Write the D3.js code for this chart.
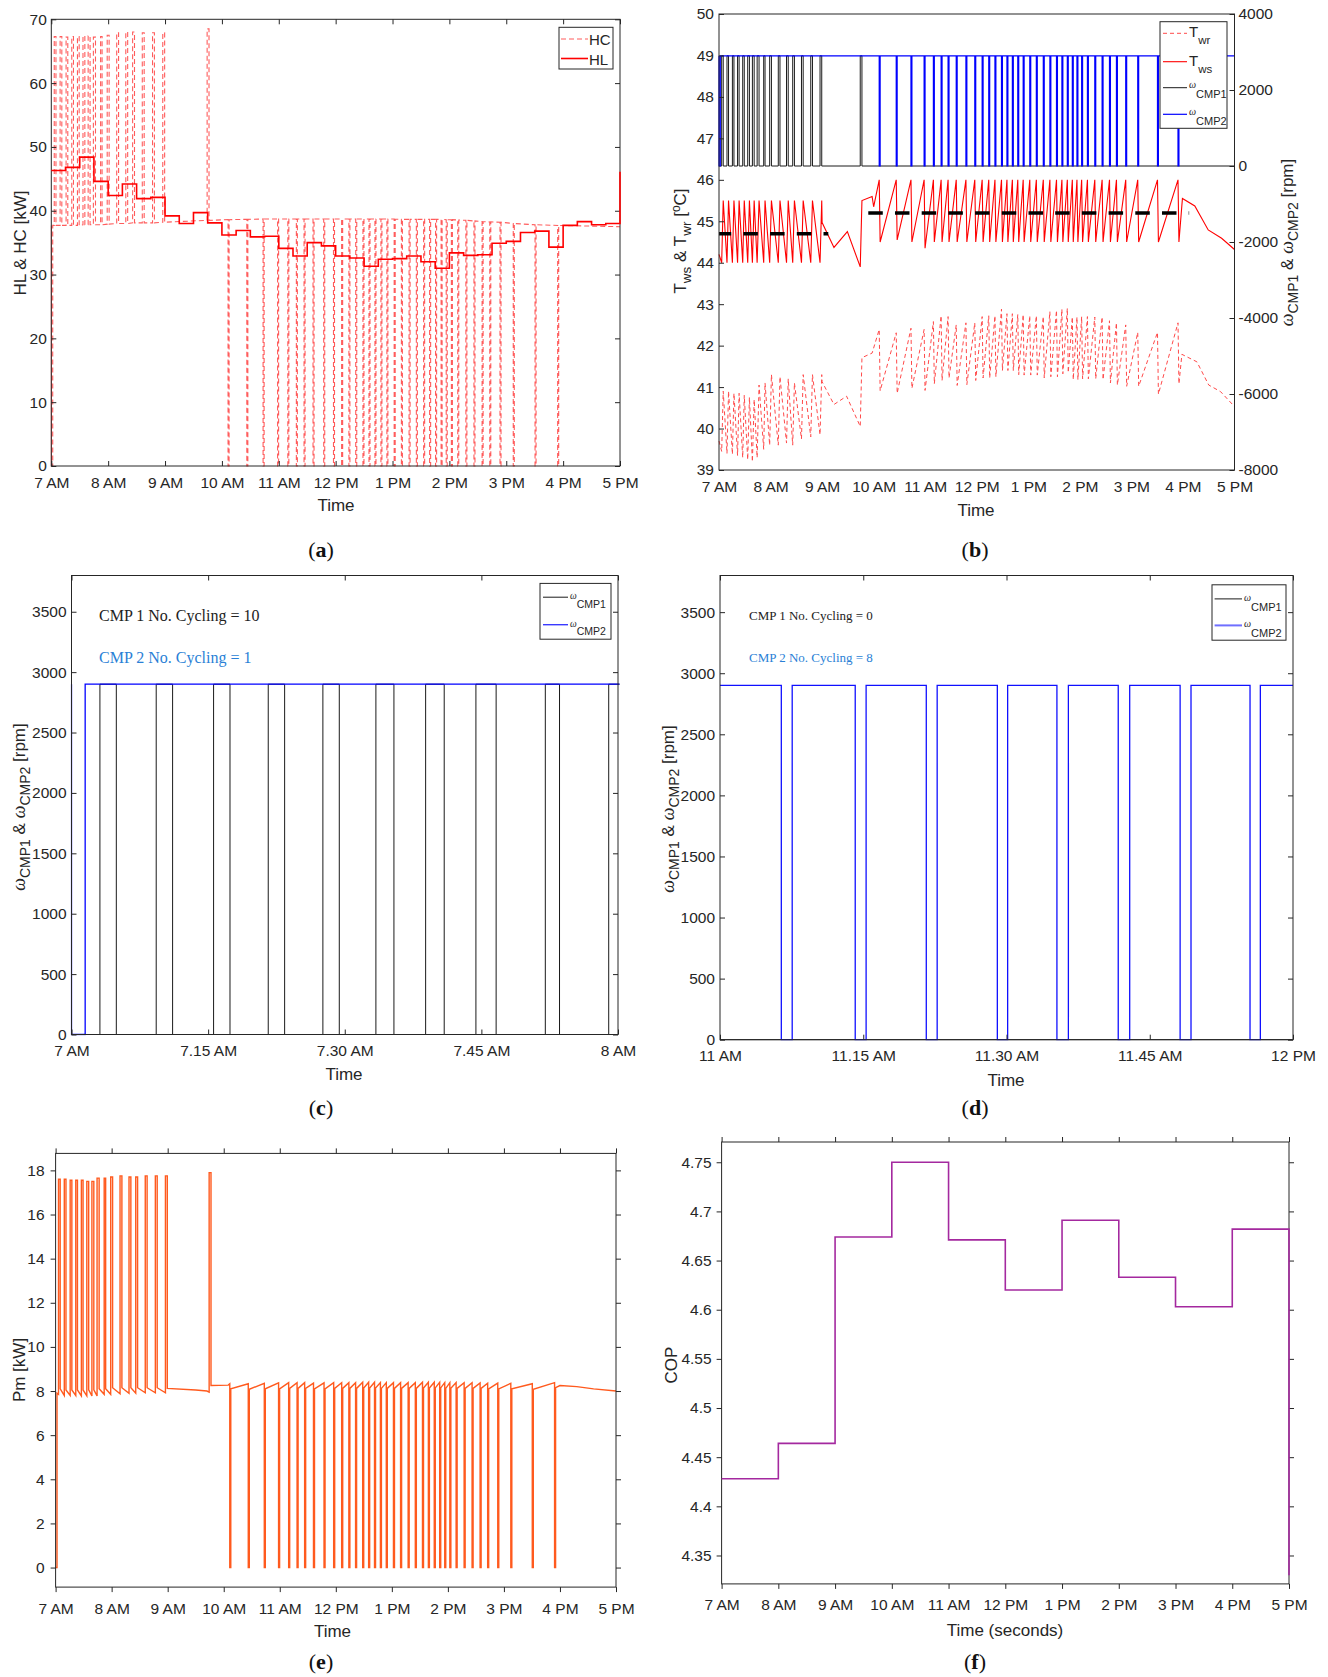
<!DOCTYPE html>
<html><head><meta charset="utf-8"><title>Heat pump simulation</title>
<script src="https://cdn.jsdelivr.net/npm/d3@7/dist/d3.min.js"></script>
<style>html,body{margin:0;padding:0;background:#fff}</style>
</head><body><script>
// ---------------- DATA (times in hours of day) ----------------
const hourTicks  = [7, 8, 9, 10, 11, 12, 13, 14, 15, 16, 17];
const hourLabels = ["7 AM","8 AM","9 AM","10 AM","11 AM","12 PM","1 PM","2 PM","3 PM","4 PM","5 PM"];
const cTicks  = [7, 7.25, 7.5, 7.75, 8];
const cLabels = ["7 AM","7.15 AM","7.30 AM","7.45 AM","8 AM"];
const dTicks  = [11, 11.25, 11.5, 11.75, 12];
const dLabels = ["11 AM","11.15 AM","11.30 AM","11.45 AM","12 PM"];
const aYTicks = [0, 10, 20, 30, 40, 50, 60, 70];
const bLeftTicks  = [39, 40, 41, 42, 43, 44, 45, 46, 47, 48, 49, 50];
const bRightTicks = [-8000, -6000, -4000, -2000, 0, 2000, 4000];
const rpmTicks = [0, 500, 1000, 1500, 2000, 2500, 3000, 3500];
const pmTicks  = [0, 2, 4, 6, 8, 10, 12, 14, 16, 18];
const copTicks = [4.35, 4.4, 4.45, 4.5, 4.55, 4.6, 4.65, 4.7, 4.75];

const cmpSpeed = 2900; // rpm of a running compressor

// CMP1 on-pulses (morning)
const cmp1OnStart = [7.052, 7.155, 7.260, 7.360, 7.460, 7.557, 7.648, 7.740, 7.867, 7.983, 8.150, 8.310, 8.430, 8.600, 8.780, 8.960, 9.740];
const cmp1OnEnd   = [7.082, 7.185, 7.290, 7.390, 7.490, 7.590, 7.682, 7.777, 7.893, 8.017, 8.183, 8.343, 8.463, 8.633, 8.813, 8.993, 9.773];
// CMP2 off-periods (first one = start-up)
const cmp2OffStart = [7.000, 10.108, 10.438, 10.724, 10.979, 11.159, 11.309, 11.444, 11.602, 11.790, 11.962, 12.105, 12.233, 12.353, 12.480, 12.586, 12.691, 12.796, 12.901, 13.029, 13.156, 13.291, 13.419, 13.547, 13.652, 13.757, 13.854, 13.944, 14.035, 14.147, 14.290, 14.432, 14.575, 14.710, 14.890, 15.123, 15.506, 15.904];
const cmp2OffEnd   = [7.025, 10.126, 10.456, 10.742, 10.997, 11.177, 11.327, 11.462, 11.620, 11.808, 11.980, 12.123, 12.251, 12.371, 12.498, 12.604, 12.709, 12.814, 12.919, 13.047, 13.174, 13.309, 13.437, 13.565, 13.670, 13.775, 13.872, 13.962, 14.053, 14.165, 14.308, 14.450, 14.593, 14.728, 14.908, 15.141, 15.524, 15.922];
// panel (d) detail: CMP2 off-periods between 11 AM and 12 PM
const cmp2OffStartD = [11.107, 11.236, 11.360, 11.484, 11.588, 11.695, 11.803, 11.925];
const cmp2OffEndD   = [11.126, 11.255, 11.379, 11.502, 11.608, 11.715, 11.822, 11.943];

// (a) heating load, 15-min steps
const hlValues = [46.3, 46.8, 48.4, 44.6, 42.4, 44.2, 41.9, 42.1, 39.2, 38.0, 39.7, 38.1, 36.2, 36.9, 35.9, 36.0, 34.1, 32.9, 35.0, 34.5, 32.9, 32.6, 31.3, 32.4, 32.5, 32.9, 32.0, 31.0, 33.4, 33.0, 33.1, 34.9, 35.2, 36.6, 36.8, 34.3, 37.7, 38.3, 37.8, 38.0];
const hlFinal = 46.1;
// (a) heating capacity
const hcPulsePeak = [67.3, 67.3, 67.2, 67.3, 67.3, 67.4, 67.4, 67.2, 67.3, 67.5, 67.9, 68.0, 68.0, 67.9, 67.9, 67.9, 68.5];
const hcPulseBase = [37.7, 37.7, 37.7, 37.7, 37.7, 37.8, 37.8, 37.8, 37.8, 37.9, 38.0, 38.0, 38.1, 38.1, 38.1, 38.2, 38.5];
const hcOffBase   = [37.7, 38.6, 38.65, 38.7, 38.7, 38.7, 38.7, 38.7, 38.7, 38.7, 38.7, 38.7, 38.7, 38.7, 38.7, 38.7, 38.7, 38.7, 38.7, 38.7, 38.65, 38.65, 38.65, 38.65, 38.65, 38.65, 38.65, 38.6, 38.6, 38.55, 38.5, 38.4, 38.3, 38.25, 38.2, 38.0, 37.8, 37.7];
const hcEnd = 37.5;

// (b) supply water temperature Tws
const twsPulseLow  = [44.0, 44.0, 44.0, 44.0, 44.0, 44.0, 44.0, 44.0, 44.0, 44.0, 44.0, 44.0, 44.0, 44.0, 44.0, 44.0, 43.9];
const twsPulseHigh = [45.5, 45.5, 45.5, 45.5, 45.5, 45.5, 45.5, 45.5, 45.5, 45.5, 45.5, 45.5, 45.5, 45.5, 45.5, 45.5, 45.5];
const twsOffPeak   = [46.0, 46.0, 46.0, 46.0, 46.0, 46.0, 46.0, 46.0, 46.0, 46.0, 46.0, 46.0, 46.0, 46.0, 46.0, 46.0, 46.0, 46.0, 46.0, 46.0, 46.0, 46.0, 46.0, 46.0, 46.0, 46.0, 46.0, 46.0, 46.0, 46.0, 46.0, 46.0, 46.0, 46.0, 46.0, 46.0, 46.0];
const twsOffTrough = [44.5, 44.55, 44.5, 44.35, 44.5, 44.5, 44.5, 44.5, 44.5, 44.5, 44.5, 44.5, 44.5, 44.5, 44.5, 44.5, 44.5, 44.5, 44.5, 44.5, 44.5, 44.5, 44.5, 44.5, 44.5, 44.5, 44.5, 44.5, 44.5, 44.5, 44.5, 44.5, 44.5, 44.5, 44.5, 44.5, 44.5];
const twsExtraT = [7.0, 9.0, 9.23, 9.49, 9.97, 10.0, 15.99, 16.23, 16.49, 16.75, 17.0];
const twsExtraV = [44.2, 44.97, 44.37, 44.75, 45.6, 45.35, 45.55, 45.37, 44.79, 44.59, 44.32];
// (b) return water temperature Twr
const twrPulseLow  = [39.45, 39.4, 39.38, 39.35, 39.3, 39.25, 39.2, 39.3, 39.5, 39.6, 39.6, 39.65, 39.6, 39.75, 39.8, 39.85, 40.05];
const twrPulseHigh = [40.9, 40.9, 40.85, 40.85, 40.8, 40.75, 40.7, 41.05, 41.1, 41.3, 41.25, 41.2, 41.1, 41.3, 41.3, 41.3, 41.71];
const twrOffPeak   = [42.39, 42.31, 42.42, 42.39, 42.58, 42.72, 42.70, 42.50, 42.55, 42.55, 42.70, 42.72, 42.72, 42.88, 42.77, 42.77, 42.75, 42.75, 42.72, 42.72, 42.70, 42.82, 42.85, 42.88, 42.90, 42.69, 42.69, 42.70, 42.70, 42.69, 42.69, 42.60, 42.55, 42.50, 42.32, 42.32, 42.55];
const twrOffTrough = [40.91, 40.85, 40.97, 40.92, 41.08, 41.16, 41.22, 41.04, 41.06, 41.16, 41.22, 41.22, 41.25, 41.40, 41.40, 41.40, 41.30, 41.29, 41.29, 41.29, 41.22, 41.25, 41.25, 41.32, 41.35, 41.18, 41.18, 41.20, 41.20, 41.20, 41.18, 41.10, 41.05, 41.02, 41.02, 40.83, 41.08];
const twrExtraT = [7.0, 9.0, 9.23, 9.475, 9.97, 15.98, 16.27, 16.5, 16.73, 17.0];
const twrExtraV = [39.7, 41.13, 40.58, 40.78, 41.82, 41.79, 41.61, 41.05, 40.89, 40.53];
// (b) set points
const setStart = [7.0, 9.896];
const setEnd   = [9.12, 16.12];
const setValue = [44.7, 45.2];

// (e) compressor power Pm
const pmPulsePre  = [7.85, 7.8, 7.8, 7.8, 7.78, 7.78, 7.78, 7.78, 7.85, 7.85, 7.88, 7.9, 7.9, 7.92, 7.92, 7.92, 7.95];
const pmPulsePeak = [17.6, 17.6, 17.55, 17.55, 17.55, 17.5, 17.5, 17.65, 17.65, 17.7, 17.75, 17.7, 17.7, 17.75, 17.75, 17.75, 17.9];
const pmPulsePost = [8.1, 8.05, 8.05, 8.05, 8.05, 8.05, 8.05, 8.1, 8.1, 8.15, 8.15, 8.15, 8.15, 8.15, 8.15, 8.12, 8.25];
const pmOffPre  = [0, 8.33, 8.33, 8.35, 8.37, 8.38, 8.38, 8.38, 8.36, 8.37, 8.38, 8.38, 8.38, 8.38, 8.40, 8.40, 8.40, 8.38, 8.38, 8.38, 8.38, 8.38, 8.38, 8.40, 8.40, 8.40, 8.40, 8.38, 8.38, 8.38, 8.38, 8.38, 8.37, 8.36, 8.36, 8.35, 8.33, 8.38];
const pmOffPost = [7.90, 8.10, 8.08, 8.10, 8.10, 8.12, 8.12, 8.12, 8.10, 8.10, 8.12, 8.12, 8.12, 8.12, 8.14, 8.14, 8.14, 8.12, 8.12, 8.12, 8.12, 8.12, 8.12, 8.14, 8.14, 8.14, 8.14, 8.12, 8.12, 8.12, 8.12, 8.12, 8.12, 8.10, 8.10, 8.10, 8.08, 8.15];
const pmExtraT = [9.5, 9.7, 10.08, 16.0, 16.3, 16.6, 17.0];
const pmExtraV = [8.05, 8.0, 8.27, 8.25, 8.2, 8.1, 8.0];

// (f) hourly COP
const copHours  = [7, 8, 9, 10, 11, 12, 13, 14, 15, 16];
const copValues = [4.428, 4.464, 4.674, 4.750, 4.671, 4.620, 4.691, 4.633, 4.603, 4.682];
const copFinal = 4.33;

// ---------------- DRAWING ----------------
const SANS = "'Liberation Sans', Arial, Helvetica, sans-serif";
const SERIF = "'Liberation Serif', 'Times New Roman', serif";
const AX = "#262626";
const TF = 15.5;

const svg = d3.select("body").append("svg").attr("width", 1328).attr("height", 1677);
svg.append("rect").attr("width", 1328).attr("height", 1677).attr("fill", "#fff");

function styleAxis(sel) {
  sel.select(".domain").remove();
  sel.selectAll("line").attr("stroke", AX).attr("stroke-width", 1);
  sel.selectAll("text").attr("fill", AX).attr("font-size", TF).attr("font-family", SANS);
}

function frame(o) {
  const x = d3.scaleLinear().domain(o.xd).range([o.L, o.R]);
  const y = d3.scaleLinear().domain(o.yd).range([o.B, o.T]);
  const g = svg.append("g");
  const cid = "clip-" + o.id;
  svg.append("clipPath").attr("id", cid).append("rect")
    .attr("x", o.L - 1).attr("y", o.T - 1).attr("width", o.R - o.L + 2.5).attr("height", o.B - o.T + 2);
  const plot = g.append("g").attr("clip-path", `url(#${cid})`);
  const ax = g.append("g");
  const ts = o.out ? 5 : -5;
  ax.append("g").attr("transform", `translate(0,${o.B})`)
    .call(d3.axisBottom(x).tickValues(o.xt).tickFormat((d, i) => o.xl[i])
      .tickSizeInner(o.noX ? 0 : ts).tickSizeOuter(0).tickPadding(10.5))
    .call(styleAxis);
  if (o.top) ax.append("g").attr("transform", `translate(0,${o.T})`)
    .call(d3.axisTop(x).tickValues(o.xt).tickFormat(() => "").tickSizeInner(ts).tickSizeOuter(0))
    .call(styleAxis);
  ax.append("g").attr("transform", `translate(${o.L},0)`)
    .call(d3.axisLeft(y).tickValues(o.yt).tickFormat(d => String(d))
      .tickSizeInner(ts).tickSizeOuter(0).tickPadding(o.ypad || 5))
    .call(styleAxis);
  if (o.right) ax.append("g").attr("transform", `translate(${o.R},0)`)
    .call(d3.axisRight(y).tickValues(o.yt).tickFormat(() => "").tickSizeInner(ts).tickSizeOuter(0))
    .call(styleAxis);
  ax.append("rect").attr("x", o.L).attr("y", o.T).attr("width", o.R - o.L).attr("height", o.B - o.T)
    .attr("fill", "none").attr("stroke", AX).attr("stroke-width", 1);
  return { x, y, g, plot, ax };
}

function series(points) { return points.slice().sort((a, b) => a[0] - b[0]); }
function drawLine(P, data, yScale, color, width, dash, curve, onTop) {
  const ln = d3.line().x(d => P.x(d[0])).y(d => yScale(d[1]));
  if (curve) ln.curve(curve);
  const host = onTop ? P.g.append("g").attr("clip-path", P.plot.attr("clip-path")) : P.plot;
  const p = host.append("path").datum(data).attr("d", ln).attr("fill", "none")
    .attr("stroke", color).attr("stroke-width", width).attr("stroke-linejoin", "miter");
  if (dash) p.attr("stroke-dasharray", dash);
  return p;
}
function textAt(x, y, str, size, opts = {}) {
  return svg.append("text").attr("x", x).attr("y", y).attr("font-size", size)
    .attr("font-family", opts.family || SANS).attr("fill", opts.fill || AX)
    .attr("text-anchor", opts.anchor || "middle").text(str);
}
function richText(x, y, parts, rotate, anchor) {
  const t = svg.append("text").attr("fill", AX).attr("font-family", SANS)
    .attr("text-anchor", anchor || "middle");
  if (rotate) t.attr("transform", `translate(${x},${y}) rotate(-90)`);
  else t.attr("x", x).attr("y", y);
  parts.forEach(p => {
    const s = t.append("tspan").text(p.t).attr("font-size", p.s || 17);
    if (p.dy) s.attr("dy", p.dy);
    if (p.it) s.attr("font-style", "italic").attr("font-family", SERIF);
  });
  return t;
}
function panelLabel(x, y, ch) {
  const t = svg.append("text").attr("x", x).attr("y", y).attr("text-anchor", "middle")
    .attr("font-family", SERIF).attr("font-size", 22).attr("fill", "#111");
  t.append("tspan").text("(");
  t.append("tspan").text(ch).attr("font-weight", "bold");
  t.append("tspan").text(")");
}
function legendBox(x, y, w, h) {
  svg.append("rect").attr("x", x).attr("y", y).attr("width", w).attr("height", h)
    .attr("fill", "#fff").attr("stroke", AX).attr("stroke-width", 1);
}
function legendLine(x1, x2, y, color, width, dash) {
  const l = svg.append("line").attr("x1", x1).attr("x2", x2).attr("y1", y).attr("y2", y)
    .attr("stroke", color).attr("stroke-width", width);
  if (dash) l.attr("stroke-dasharray", dash);
}
function omegaLegend(x, y, sub, big) {
  richText(x, y, [{ t: "ω", s: big ? 10 : 9.5, it: true }, { t: sub, s: big ? 11 : 10.5, dy: big ? 10 : 8.5 }], false, "start");
}

// ---- series construction from event arrays ----
const pulseRect = (starts, ends, lo, hi) => starts.flatMap((s, i) => [[s, lo[i]], [s, hi[i]], [ends[i], hi[i]], [ends[i], lo[i]]]);
const loArr = (n, v) => new Array(n).fill(v);

const waveCMP1 = series([[7, 0], ...pulseRect(cmp1OnStart, cmp1OnEnd, loArr(cmp1OnStart.length, 0), loArr(cmp1OnStart.length, cmpSpeed)), [17, 0]]);
const waveCMP2 = series([[7, 0], ...pulseRect(cmp2OffStart, cmp2OffEnd, loArr(cmp2OffStart.length, cmpSpeed), loArr(cmp2OffStart.length, 0)), [17, cmpSpeed]]);
const waveCMP2D = series([[11, cmpSpeed], ...pulseRect(cmp2OffStartD, cmp2OffEndD, loArr(cmp2OffStartD.length, cmpSpeed), loArr(cmp2OffStartD.length, 0)), [12, cmpSpeed]]);
const waveCMP1D = [[11, 0], [12, 0]];

const hcSeries = series([[7, 0],
  ...cmp2OffStart.flatMap((s, i) => [[s, hcOffBase[i]], [s, 0], [cmp2OffEnd[i], 0], [cmp2OffEnd[i], hcOffBase[i]]]),
  ...cmp1OnStart.flatMap((s, i) => [[s, hcPulseBase[i]], [s, hcPulsePeak[i]], [cmp1OnEnd[i], hcPulsePeak[i]], [cmp1OnEnd[i], hcPulseBase[i]]]),
  [17, hcEnd]]);
const hlSeries = [...d3.range(7, 17, 0.25).map((t, i) => [t, hlValues[i]]), [17, hlFinal]];

const pmSeries = series([[7, 0],
  ...cmp2OffStart.flatMap((s, i) => [[s, pmOffPre[i]], [s, 0], [cmp2OffEnd[i], 0], [cmp2OffEnd[i], pmOffPost[i]]]),
  ...cmp1OnStart.flatMap((s, i) => [[s, pmPulsePre[i]], [s, pmPulsePeak[i]], [cmp1OnEnd[i], pmPulsePeak[i]], [cmp1OnEnd[i], pmPulsePost[i]]]),
  ...pmExtraT.map((t, i) => [t, pmExtraV[i]])]);

const twsSeries = series([
  ...cmp1OnStart.flatMap((s, i) => [[s, twsPulseLow[i]], [cmp1OnEnd[i], twsPulseHigh[i]]]),
  ...cmp2OffStart.slice(1).flatMap((s, i) => [[s, twsOffPeak[i]], [cmp2OffEnd[i + 1], twsOffTrough[i]]]),
  ...twsExtraT.map((t, i) => [t, twsExtraV[i]])]);
const twrSeries = series([
  ...cmp1OnStart.flatMap((s, i) => [[s, twrPulseLow[i]], [cmp1OnEnd[i], twrPulseHigh[i]]]),
  ...cmp2OffStart.slice(1).flatMap((s, i) => [[s, twrOffPeak[i]], [cmp2OffEnd[i + 1], twrOffTrough[i]]]),
  ...twrExtraT.map((t, i) => [t, twrExtraV[i]])]);

// ================= (a) =================
const A = frame({ id: "a", L: 51.3, R: 620, T: 19.3, B: 466, xd: [7, 17], yd: [0, 70], xt: hourTicks, xl: hourLabels, yt: aYTicks, top: true, right: true, out: false, ypad: 4.5 });
drawLine(A, hcSeries, A.y, "#ff5c5c", 1.1, "5,3");
drawLine(A, hlSeries, A.y, "#ff0000", 1.6, null, d3.curveStepAfter, true);
legendBox(559, 27.3, 54, 41.7);
legendLine(561, 588, 39, "#ff5c5c", 1.1, "5,3");
legendLine(561, 588, 58.5, "#ff0000", 1.6);
textAt(589, 44.5, "HC", 15, { anchor: "start" });
textAt(589, 64.5, "HL", 15, { anchor: "start" });
richText(26, 243, [{ t: "HL & HC [kW]" }], true);
textAt(336, 511, "Time", 17);
panelLabel(321, 557, "a");

// ================= (b) =================
const Bp = frame({ id: "b", L: 719, R: 1234.5, T: 14, B: 470, xd: [7, 17], yd: [39, 50], xt: hourTicks, xl: hourLabels, yt: bLeftTicks, top: false, right: false, out: false, noX: true, ypad: 5 });
const yR = d3.scaleLinear().domain([-8000, 4000]).range([470, 14]);
Bp.ax.append("g").attr("transform", "translate(1234.5,0)")
  .call(d3.axisRight(yR).tickValues(bRightTicks).tickFormat(d => String(d)).tickSizeInner(-5).tickSizeOuter(0).tickPadding(4))
  .call(styleAxis);
drawLine(Bp, waveCMP1, yR, "#1a1a1a", 1);
drawLine(Bp, waveCMP2, yR, "#0000ff", 1.2);
drawLine(Bp, twrSeries, Bp.y, "#ff4a4a", 1, "4,3");
drawLine(Bp, twsSeries, Bp.y, "#ff0000", 1.1);
setStart.forEach((s, i) => {
  drawLine(Bp, [[s, setValue[i]], [setEnd[i], setValue[i]]], Bp.y, "#000", 3.6, "14.5,12.2").attr("stroke-dashoffset", i === 0 ? 2.3 : 0);
});
legendBox(1160, 21.7, 67, 106.6);
legendLine(1163, 1187, 33.3, "#ff4a4a", 1, "4,3");
legendLine(1163, 1187, 61.7, "#ff0000", 1.1);
legendLine(1163, 1187, 87.7, "#1a1a1a", 1);
legendLine(1163, 1187, 114.3, "#0000ff", 1.2);
richText(1189, 37, [{ t: "T", s: 15 }, { t: "wr", s: 11.5, dy: 7 }], false, "start");
richText(1189, 65.5, [{ t: "T", s: 15 }, { t: "ws", s: 11.5, dy: 7 }], false, "start");
omegaLegend(1189, 88, "CMP1", true);
omegaLegend(1189, 114.5, "CMP2", true);
richText(686, 241, [{ t: "T" }, { t: "ws", s: 13.5, dy: 5 }, { t: " & T", dy: -5 }, { t: "wr", s: 13.5, dy: 5 }, { t: " [", dy: -5 }, { t: "o", s: 12, dy: -6 }, { t: "C]", dy: 6 }], true);
richText(1293, 242.5, [{ t: "ω", s: 18, it: true }, { t: "CMP1", s: 14, dy: 5 }, { t: " & ", dy: -5 }, { t: "ω", s: 18, it: true }, { t: "CMP2", s: 14, dy: 5 }, { t: " [rpm]", dy: -5 }], true);
textAt(976, 516, "Time", 17);
panelLabel(975, 557, "b");

// ================= (c) =================
const C = frame({ id: "c", L: 71.5, R: 618, T: 575.5, B: 1034.5, xd: [7, 8], yd: [0, 3800], xt: cTicks, xl: cLabels, yt: rpmTicks, top: true, right: true, out: false, ypad: 5 });
drawLine(C, waveCMP1, C.y, "#1a1a1a", 1);
drawLine(C, waveCMP2, C.y, "#0000ff", 1.3);
textAt(99, 621, "CMP 1 No. Cycling = 10", 16, { anchor: "start", family: SERIF, fill: "#222" });
textAt(99, 662.5, "CMP 2 No. Cycling = 1", 16, { anchor: "start", family: SERIF, fill: "#2a7fd6" });
legendBox(540, 583.4, 71, 55.8);
legendLine(543, 568, 597.2, "#1a1a1a", 1);
legendLine(543, 568, 624.7, "#3a3aff", 1.4);
omegaLegend(570, 599, "CMP1", false);
omegaLegend(570, 626.5, "CMP2", false);
richText(25, 807, [{ t: "ω", s: 18, it: true }, { t: "CMP1", s: 14, dy: 5 }, { t: " & ", dy: -5 }, { t: "ω", s: 18, it: true }, { t: "CMP2", s: 14, dy: 5 }, { t: " [rpm]", dy: -5 }], true);
textAt(344, 1080, "Time", 17);
panelLabel(321, 1115, "c");

// ================= (d) =================
const D = frame({ id: "d", L: 720, R: 1293, T: 575.5, B: 1039.7, xd: [11, 12], yd: [0, 3800], xt: dTicks, xl: dLabels, yt: rpmTicks, top: true, right: true, out: false, ypad: 5 });
drawLine(D, waveCMP1D, D.y, "#1a1a1a", 1);
drawLine(D, waveCMP2D, D.y, "#1010ff", 1.3);
textAt(749, 620, "CMP 1 No. Cycling = 0", 13, { anchor: "start", family: SERIF, fill: "#222" });
textAt(749, 661.5, "CMP 2 No. Cycling = 8", 13, { anchor: "start", family: SERIF, fill: "#2a7fd6" });
legendBox(1212, 584.8, 74, 55.4);
legendLine(1214.6, 1242, 598.9, "#1a1a1a", 1);
legendLine(1214.6, 1242, 625.4, "#6f6fff", 2);
omegaLegend(1244, 600.5, "CMP1", true);
omegaLegend(1244, 627, "CMP2", true);
richText(673.5, 809, [{ t: "ω", s: 18, it: true }, { t: "CMP1", s: 14, dy: 5 }, { t: " & ", dy: -5 }, { t: "ω", s: 18, it: true }, { t: "CMP2", s: 14, dy: 5 }, { t: " [rpm]", dy: -5 }], true);
textAt(1006, 1086, "Time", 17);
panelLabel(975, 1115, "d");

// ================= (e) =================
const E = frame({ id: "e", L: 55.6, R: 616, T: 1153.4, B: 1587.1, xd: [7, 17], yd: [-0.886, 18.77], xt: hourTicks, xl: hourLabels, yt: pmTicks, top: true, right: true, out: true, ypad: 6 });
drawLine(E, pmSeries, E.y, "#ff5a1e", 1.4);
richText(25, 1370, [{ t: "Pm [kW]" }], true);
textAt(332.5, 1637, "Time", 17);
panelLabel(321, 1669, "e");

// ================= (f) =================
const F = frame({ id: "f", L: 721.6, R: 1289, T: 1142, B: 1583.9, xd: [7, 17], yd: [4.3211, 4.7706], xt: hourTicks, xl: hourLabels, yt: copTicks, top: true, right: true, out: true, ypad: 5 });
drawLine(F, [...copHours.map((h, i) => [h, copValues[i]]), [17, copFinal]], F.y, "#a4299f", 1.6, null, d3.curveStepAfter, true);
richText(677, 1365, [{ t: "COP" }], true);
textAt(1005, 1636, "Time (seconds)", 17);
panelLabel(975, 1669, "f");
</script></body></html>
